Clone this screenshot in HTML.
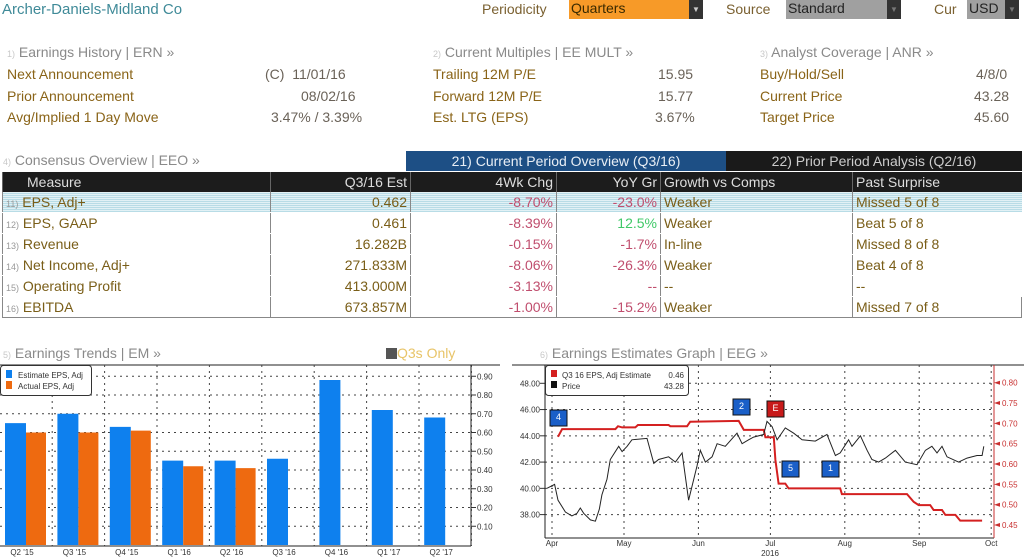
<!DOCTYPE html>
<html><head><meta charset="utf-8">
<style>
body{margin:0;width:1024px;height:559px;background:#fff;font-family:"Liberation Sans",sans-serif;overflow:hidden;position:relative}
.a{position:absolute;white-space:nowrap}
.lbl{color:#8a6418;font-size:14px}
.val{color:#6a6258;font-size:14px}
.hd{color:#8a8a8a;font-size:14px}
.num{color:#c8c8c8;font-size:9px}
table{border-collapse:collapse;position:absolute;left:2px;top:172px;width:1020px;font-size:14px}
td{height:20px;padding:0 3px;border-left:1px solid #888;border-bottom:1px solid #fff;white-space:nowrap}
th{height:20px;background:#1c1c1c;color:#ddd;font-weight:normal;padding:0 3px;border-left:1px solid #666}
.r{text-align:right}.red{color:#c04e6e}.grn{color:#40c868}.br{color:#7a5e18}
tr.hl td{background:repeating-linear-gradient(0deg,#b8dce6 0 1px,#e2f1f5 1px 2px)}
</style></head><body>
<div class="a" style="left:2px;top:1px;font-size:15px;color:#3f8a98">Archer-Daniels-Midland Co</div>
<div class="a hd" style="left:482px;top:1px;color:#7a6030">Periodicity</div>
<div class="a" style="left:569px;top:0;width:120px;height:19px;background:#f79a28;color:#3a2a00;font-size:14px;padding-left:2px">Quarters</div>
<div class="a" style="left:689px;top:0;width:14px;height:19px;background:#333;color:#ccc;font-size:8px;text-align:center;line-height:19px">▼</div>
<div class="a hd" style="left:726px;top:1px;color:#7a6030">Source</div>
<div class="a" style="left:786px;top:0;width:100px;height:19px;background:#a0a0a0;color:#222;font-size:14px;padding-left:2px">Standard</div>
<div class="a" style="left:887px;top:0;width:14px;height:19px;background:#333;color:#777;font-size:8px;text-align:center;line-height:19px">▼</div>
<div class="a hd" style="left:934px;top:1px;color:#7a6030">Cur</div>
<div class="a" style="left:967px;top:0;width:36px;height:19px;background:#a0a0a0;color:#222;font-size:14px;padding-left:2px">USD</div>
<div class="a" style="left:1005px;top:0;width:14px;height:19px;background:#333;color:#777;font-size:8px;text-align:center;line-height:19px">▼</div>

<div class="a hd" style="left:7px;top:44px"><span class="num">1)</span> Earnings History | ERN »</div>
<div class="a lbl" style="left:7px;top:66px">Next Announcement</div>
<div class="a val" style="left:265px;top:66px">(C)&nbsp; 11/01/16</div>
<div class="a lbl" style="left:7px;top:88px">Prior Announcement</div>
<div class="a val" style="left:301px;top:88px">08/02/16</div>
<div class="a lbl" style="left:7px;top:109px">Avg/Implied 1 Day Move</div>
<div class="a val" style="left:271px;top:109px">3.47% / 3.39%</div>

<div class="a hd" style="left:433px;top:44px"><span class="num">2)</span> Current Multiples | EE MULT »</div>
<div class="a lbl" style="left:433px;top:66px">Trailing 12M P/E</div>
<div class="a val" style="left:658px;top:66px">15.95</div>
<div class="a lbl" style="left:433px;top:88px">Forward 12M P/E</div>
<div class="a val" style="left:658px;top:88px">15.77</div>
<div class="a lbl" style="left:433px;top:109px">Est. LTG (EPS)</div>
<div class="a val" style="left:655px;top:109px">3.67%</div>

<div class="a hd" style="left:760px;top:44px"><span class="num">3)</span> Analyst Coverage | ANR »</div>
<div class="a lbl" style="left:760px;top:66px">Buy/Hold/Sell</div>
<div class="a val" style="left:976px;top:66px">4/8/0</div>
<div class="a lbl" style="left:760px;top:88px">Current Price</div>
<div class="a val" style="left:974px;top:88px">43.28</div>
<div class="a lbl" style="left:760px;top:109px">Target Price</div>
<div class="a val" style="left:974px;top:109px">45.60</div>

<div class="a hd" style="left:3px;top:152px"><span class="num">4)</span> Consensus Overview | EEO »</div>
<div class="a" style="left:406px;top:151px;width:320px;height:20px;background:#1d4f85;color:#e8eef5;font-size:14px;text-align:center;line-height:20px">21) Current Period Overview (Q3/16)</div>
<div class="a" style="left:726px;top:151px;width:296px;height:20px;background:#1a1a1a;color:#ccc;font-size:14px;text-align:center;line-height:20px">22) Prior Period Analysis (Q2/16)</div>

<table>
<colgroup><col style="width:268px"><col style="width:140px"><col style="width:146px"><col style="width:104px"><col style="width:192px"><col></colgroup>
<tr><th style="text-align:left;padding-left:24px">Measure</th><th class="r">Q3/16 Est</th><th class="r">4Wk Chg</th><th class="r">YoY Gr</th><th style="text-align:left">Growth vs Comps</th><th style="text-align:left">Past Surprise</th></tr>
<tr class="hl"><td class="br"><span class="num" style="color:#999">11)</span> EPS, Adj+</td><td class="r br">0.462</td><td class="r red">-8.70%</td><td class="r red">-23.0%</td><td class="br">Weaker</td><td class="br">Missed 5 of 8</td></tr>
<tr><td class="br"><span class="num" style="color:#999">12)</span> EPS, GAAP</td><td class="r br">0.461</td><td class="r red">-8.39%</td><td class="r grn">12.5%</td><td class="br">Weaker</td><td class="br">Beat 5 of 8</td></tr>
<tr><td class="br"><span class="num" style="color:#999">13)</span> Revenue</td><td class="r br">16.282B</td><td class="r red">-0.15%</td><td class="r red">-1.7%</td><td class="br">In-line</td><td class="br">Missed 8 of 8</td></tr>
<tr><td class="br"><span class="num" style="color:#999">14)</span> Net Income, Adj+</td><td class="r br">271.833M</td><td class="r red">-8.06%</td><td class="r red">-26.3%</td><td class="br">Weaker</td><td class="br">Beat 4 of 8</td></tr>
<tr><td class="br"><span class="num" style="color:#999">15)</span> Operating Profit</td><td class="r br">413.000M</td><td class="r red">-3.13%</td><td class="r red">-- </td><td class="br">--</td><td class="br">--</td></tr>
<tr><td class="br" style="border-bottom:1px solid #888"><span class="num" style="color:#999">16)</span> EBITDA</td><td class="r br" style="border-bottom:1px solid #888">673.857M</td><td class="r red" style="border-bottom:1px solid #888">-1.00%</td><td class="r red" style="border-bottom:1px solid #888">-15.2%</td><td class="br" style="border-bottom:1px solid #888">Weaker</td><td class="br" style="border-bottom:1px solid #888;border-right:1px solid #888">Missed 7 of 8</td></tr>
</table>

<div class="a hd" style="left:3px;top:345px"><span class="num">5)</span> Earnings Trends | EM »</div>
<div class="a" style="left:386px;top:345px;font-size:14px;color:#e8c468"><span style="display:inline-block;width:11px;height:11px;background:#555;vertical-align:-1px"></span>Q3s Only</div>
<div class="a hd" style="left:540px;top:345px"><span class="num">6)</span> Earnings Estimates Graph | EEG »</div>

<svg id="bars" class="a" style="left:0;top:360px" width="512" height="199"></svg>
<svg id="line" class="a" style="left:512px;top:360px" width="512" height="199"></svg>

<script>
const barCategories=["Q2 '15","Q3 '15","Q4 '15","Q1 '16","Q2 '16","Q3 '16","Q4 '16","Q1 '17","Q2 '17"];
const estimateEps=[0.65,0.70,0.63,0.45,0.45,0.46,0.88,0.72,0.68];
const actualEps=[0.60,0.60,0.61,0.42,0.41,null,null,null,null];
const barTicks=[0.10,0.20,0.30,0.40,0.50,0.60,0.70,0.80,0.90];

const priceDays=[-2.1,1.1,2.5,5.6,8.3,10.4,11.8,13.2,16,18.1,19.7,20.8,22.9,24.3,27.8,29.2,31.3,33.3,39.6,42.4,44.4,48.6,51.4,54.2,56.9,60.4,61.8,63.9,66.7,68.8,72.2,77.1,79.2,81.9,84,88.2,89.6,91.7,93.8,97.2,100.7,104.2,109.7,114.6,118.1,120.1,123.6,125,128.5,131.3,133.3,136.1,138.9,143.1,147.2,152.1,155.6,158.3,160.4,162.5,164.6,169.4,172.9,177.1,179.2,179.9];
const priceValues=[40.0,40.3,39.1,38.2,37.9,38.1,38.5,38.1,37.6,37.5,38.4,39.5,40.7,42.2,43.2,42.8,43.2,43.7,43.8,41.9,42.2,42.4,42.0,42.7,39.1,41.7,42.9,42.0,42.4,43.4,43.2,44.2,43.4,43.7,43.9,44.1,45.1,44.7,43.7,44.6,44.2,43.7,43.6,44.1,42.5,42.7,43.7,43.2,44.0,42.9,42.2,42.0,42.3,42.9,42.0,41.8,42.9,43.2,42.7,43.2,42.4,42.0,42.3,42.5,42.5,43.2];
const estDays=[2.5,4.2,26.4,27.5,29.2,34.7,35.8,48.6,49.3,56.3,57.6,77.8,79.9,88.2,88.9,92.4,93.1,94.4,97.2,98.6,120.1,120.8,147.9,150.7,152.8,157.6,159,162.5,163.9,168.1,170.1,179.2];
const estValues=[0.667,0.686,0.686,0.693,0.690,0.690,0.696,0.696,0.693,0.693,0.704,0.706,0.684,0.684,0.666,0.666,0.610,0.552,0.552,0.540,0.540,0.526,0.526,0.507,0.499,0.499,0.487,0.487,0.475,0.475,0.461,0.461];
const priceTicks=[38,40,42,44,46,48];
const epsTicks=[0.45,0.50,0.55,0.60,0.65,0.70,0.75,0.80];
const monthLabels=["Apr","May","Jun","Jul","Aug","Sep","Oct"];
const monthDays=[0,30,61,91,122,153,183];

const NS="http://www.w3.org/2000/svg";
function mk(p,t,at,txt){const e=document.createElementNS(NS,t);for(const k in at)e.setAttribute(k,at[k]);if(txt!=null)e.textContent=txt;p.appendChild(e);return e;}

// ---- bar chart ----
(function(){
const s=document.getElementById('bars');
const yB=v=>185-v*187.5; // svg y
const xC=i=>26+i*52.4;
mk(s,'line',{x1:0,y1:5,x2:500,y2:5,stroke:'#222','stroke-width':1});
barTicks.forEach(t=>{const g=mk(s,'line',{x1:0,y1:yB(t),x2:471,y2:yB(t),stroke:'#444','stroke-dasharray':'2,4','stroke-width':1});
const tl=mk(s,'text',{x:477,y:yB(t)+3,'font-size':8,fill:'#333'},t.toFixed(2));
mk(s,'line',{x1:471,y1:yB(t),x2:476,y2:yB(t),stroke:'#333'});});
barCategories.forEach((c,i)=>{mk(s,'line',{x1:xC(i)+52.4/2-26+26*0+0,y1:5,x2:xC(i)+0,y2:5,stroke:'none'});
const vg=mk(s,'line',{x1:xC(i)+0.5+26-26+52.4/2-26.2+52.4/2-26.2+(-26+0)+26,y1:5,x2:0,y2:0,stroke:'none'});});
// vertical dotted grid between groups
barCategories.forEach((c,i)=>{const gx=xC(i)-26+52.4-5+1;const v=mk(s,'line',{x1:xC(i)+52.4/2-26+26-26+52.4-52.4+ (i===0?26:0)*0 + 52.4*0 + (xC(i)-xC(i)) + 0 + 52.4/2 - 26.2 + 52.4 - 52.4 + 0,y1:0,x2:0,y2:0,stroke:'none'});});
[22,75,127,181,233,285,337,389,441].forEach(()=>{});
barCategories.forEach((c,i)=>{const x=xC(i)+52.4/2-26.2+52.4/2-26.2; const gx=xC(i)+52.4/2-26.2+52.4/2-26.2+52.4/2; 
const vl=mk(s,'line',{x1:xC(i)+52.4/2-26.2+52.4/2,y1:5,x2:xC(i)+52.4/2-26.2+52.4/2,y2:186,stroke:'#444','stroke-dasharray':'2,4'});
});
barCategories.forEach((c,i)=>{
const b=mk(s,'rect',{x:xC(i)-21,y:yB(estimateEps[i]),width:21,height:185-yB(estimateEps[i]),fill:'#0e80ee'});

if(actualEps[i]!=null){const o=mk(s,'rect',{x:xC(i),y:yB(actualEps[i]),width:20,height:185-yB(actualEps[i]),fill:'#ee6a10'});
}
const t=mk(s,'text',{x:xC(i)-4,y:195,'font-size':8,fill:'#333','text-anchor':'middle'},c);
});
mk(s,'line',{x1:0,y1:186,x2:471,y2:186,stroke:'#222'});
mk(s,'line',{x1:471,y1:5,x2:471,y2:186,stroke:'#222'});
const lg=mk(s,'g',{});
mk(lg,'rect',{x:0.5,y:5.5,width:91,height:30,rx:3,fill:'#fff',stroke:'#333'});
mk(lg,'rect',{x:6,y:10,width:6,height:8,fill:'#0e80ee'});
mk(lg,'text',{x:18,y:18,'font-size':8,fill:'#333'},'Estimate EPS, Adj');
mk(lg,'rect',{x:6,y:21,width:6,height:8,fill:'#ee6a10'});
mk(lg,'text',{x:18,y:29,'font-size':8,fill:'#333'},'Actual EPS, Adj');
})();

// ---- line chart ----
(function(){
const s=document.getElementById('line');
const xD=d=>40+d*2.4;
const yP=p=>23.3+(48-p)*13.13;
const yE=e=>22.7+(0.8-e)*406.7;
mk(s,'line',{x1:0,y1:5,x2:512,y2:5,stroke:'#222'});
priceTicks.forEach(p=>{const g=mk(s,'line',{x1:33,y1:yP(p),x2:482,y2:yP(p),stroke:'#444','stroke-dasharray':'2,4'});
const t=mk(s,'text',{x:28,y:yP(p)+3,'font-size':8,fill:'#333','text-anchor':'end'},p.toFixed(2));
mk(s,'line',{x1:28,y1:yP(p),x2:33,y2:yP(p),stroke:'#333'});});
epsTicks.forEach(e=>{const t=mk(s,'text',{x:490,y:yE(e)+3,'font-size':8,fill:'#c83030'},e.toFixed(2));
mk(s,'path',{d:`M482 ${yE(e)} l6 -2 v4 z`,fill:'#c83030'});});
monthDays.forEach((d,i)=>{const x=xD(d);const v=mk(s,'line',{x1:x,y1:5,x2:x,y2:178,stroke:'#444','stroke-dasharray':'2,4'});
const t=mk(s,'text',{x:x+(i==0?0:0),y:186,'font-size':8,fill:'#333','text-anchor':'middle'},monthLabels[i]);});
const yr=mk(s,'text',{x:258,y:196,'font-size':8,fill:'#333','text-anchor':'middle'},'2016');
mk(s,'line',{x1:33,y1:178,x2:482,y2:178,stroke:'#222'});
mk(s,'line',{x1:33,y1:5,x2:33,y2:178,stroke:'#222'});
mk(s,'line',{x1:482,y1:5,x2:482,y2:178,stroke:'#c83030'});
let ed='';estDays.forEach((d,i)=>{ed+=(i?'L':'M')+xD(d).toFixed(1)+' '+yE(estValues[i]).toFixed(1)+' ';});
const el=mk(s,'path',{d:ed,fill:'none',stroke:'#d42020','stroke-width':2});
let pd='';priceDays.forEach((d,i)=>{pd+=(i?'L':'M')+xD(d).toFixed(1)+' '+yP(priceValues[i]).toFixed(1)+' ';});
const pl=mk(s,'path',{d:pd,fill:'none',stroke:'#222','stroke-width':1});
[[38,50,'4','#1a5fc8'],[221,39,'2','#1a5fc8'],[255,41,'E','#c81a1a'],[270,101,'5','#1a5fc8'],[310,101,'1','#1a5fc8']].forEach(m=>{
const g=mk(s,'g',{});
mk(g,'rect',{x:m[0],y:m[1],width:17,height:16,fill:m[3],stroke:'#111'});
mk(g,'text',{x:m[0]+8.5,y:m[1]+10,'font-size':9,fill:'#fff','text-anchor':'middle'},m[2]);});
const lg=mk(s,'g',{});
mk(lg,'rect',{x:33.5,y:5.5,width:143,height:30,rx:3,fill:'#fff',stroke:'#333'});
mk(lg,'rect',{x:39,y:10,width:6,height:7,fill:'#d42020'});
mk(lg,'text',{x:50,y:18,'font-size':8,fill:'#333'},'Q3 16 EPS, Adj Estimate');
mk(lg,'text',{x:172,y:18,'font-size':8,fill:'#333','text-anchor':'end'},'0.46');
mk(lg,'rect',{x:39,y:21,width:6,height:7,fill:'#111'});
mk(lg,'text',{x:50,y:29,'font-size':8,fill:'#333'},'Price');
mk(lg,'text',{x:172,y:29,'font-size':8,fill:'#333','text-anchor':'end'},'43.28');
})();
</script>
</body></html>
